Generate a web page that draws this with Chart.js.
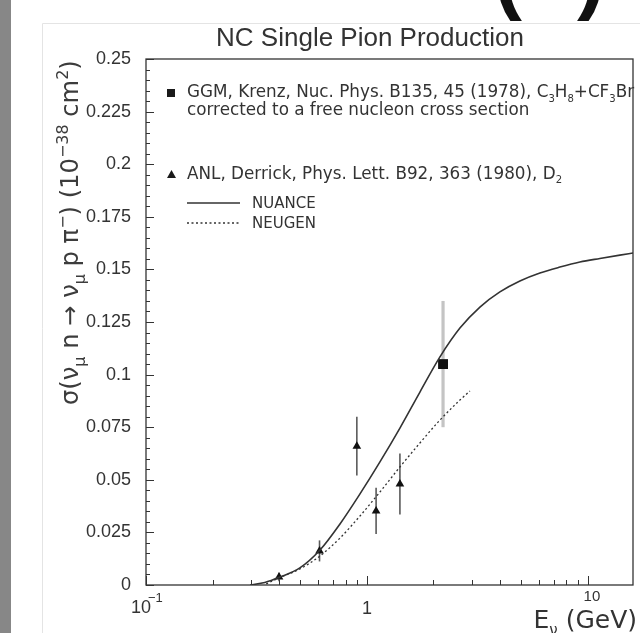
<!DOCTYPE html>
<html>
<head>
<meta charset="utf-8">
<script src="https://cdn.jsdelivr.net/npm/chart.js@4.4.1/dist/chart.umd.min.js"></script>
<style>
  html, body { margin: 0; padding: 0; background: #ffffff; }
  #wrap { width: 640px; height: 633px; }
</style>
</head>
<body>
<div id="wrap"><canvas id="c" width="640" height="633"></canvas></div>
<script>
// NUANCE prediction (solid curve)
const nuanceE     = [0.296, 0.345, 0.404, 0.497, 0.613, 0.755, 0.930, 1.145, 1.410, 1.737, 2.140, 2.635, 3.246, 3.997, 4.923, 6.066, 7.470, 9.201, 11.33, 13.96, 16.0];
const nuanceSigma = [0.0, 0.0012, 0.0038, 0.0081, 0.0166, 0.0290, 0.0433, 0.0585, 0.0746, 0.0917, 0.1084, 0.1221, 0.1321, 0.1393, 0.1445, 0.1483, 0.1511, 0.1535, 0.1552, 0.1568, 0.1578];

// NEUGEN prediction (dotted curve)
const neugenE     = [0.35, 0.404, 0.497, 0.613, 0.755, 0.930, 1.145, 1.410, 1.737, 2.140, 2.635, 2.925];
const neugenSigma = [0.0005, 0.0036, 0.0076, 0.0138, 0.0223, 0.0328, 0.0442, 0.0561, 0.0675, 0.0784, 0.0879, 0.0922];

// ANL (Derrick 1980) measurements
const anlE     = [0.40, 0.61, 0.90, 1.10, 1.41];
const anlSigma = [0.0038, 0.0162, 0.066, 0.0352, 0.048];
const anlErr   = [0.002, 0.005, 0.014, 0.011, 0.0145];

// GGM (Krenz 1978) measurement
const ggmE     = [2.21];
const ggmSigma = [0.105];
const ggmErr   = [0.03];

// Axis ticks
const yTicks      = [0, 0.025, 0.05, 0.075, 0.1, 0.125, 0.15, 0.175, 0.2, 0.225, 0.25];
const yTickLabels = ['0', '0.025', '0.05', '0.075', '0.1', '0.125', '0.15', '0.175', '0.2', '0.225', '0.25'];
const xDecades    = [0.1, 1, 10];

const INK = '#333333';
const FONT = '"Liberation Sans", Arial, Helvetica, sans-serif';
const WIDE = '"DejaVu Sans", Verdana, sans-serif';

function pts(xs, ys) { return xs.map((x, i) => ({ x: x, y: ys[i] })); }

// Text made of runs, some of which are sub- or superscripts.
function richWidth(ctx, runs, size, family, k) {
  let w = 0;
  for (const r of runs) {
    const s = r.sub || r.sup ? size * k : size;
    ctx.font = s + 'px ' + family;
    w += ctx.measureText(r.t).width;
  }
  return w;
}
function drawRich(ctx, runs, x, y, size, family, k) {
  let cx = x;
  for (const r of runs) {
    const s = r.sub || r.sup ? size * k : size;
    ctx.font = s + 'px ' + family;
    const dy = r.sub ? size * 0.28 : (r.sup ? -size * 0.42 : 0);
    ctx.fillText(r.t, cx, y + dy);
    cx += ctx.measureText(r.t).width;
  }
}

const decorPlugin = {
  id: 'decor',
  beforeDraw(chart) {
    const ctx = chart.ctx;
    ctx.save();
    ctx.fillStyle = '#ffffff';
    ctx.fillRect(0, 0, chart.width, chart.height);
    // dark strip on the left edge
    ctx.fillStyle = '#878787';
    ctx.fillRect(0, 0, 11, chart.height);
    // faint panel outline
    ctx.strokeStyle = '#e4e4e4';
    ctx.lineWidth = 1;
    ctx.beginPath();
    ctx.moveTo(42.5, chart.height);
    ctx.lineTo(42.5, 23.5);
    ctx.lineTo(chart.width, 23.5);
    ctx.stroke();
    // large bracket glyphs cut by the top edge
    ctx.fillStyle = '#111111';
    ctx.font = 'bold 84px ' + FONT;
    ctx.textBaseline = 'alphabetic';
    ctx.textAlign = 'left';
    ctx.fillText('(', 494, 4);
    ctx.fillText(')', 577, 4);
    ctx.restore();
  },
  beforeDatasetsDraw(chart) {
    const ctx = chart.ctx;
    const xs = chart.scales.x, ys = chart.scales.y;
    ctx.save();
    // ANL error bars
    ctx.strokeStyle = '#5a5a5a';
    ctx.lineWidth = 1.6;
    anlE.forEach((e, i) => {
      const px = xs.getPixelForValue(e);
      ctx.beginPath();
      ctx.moveTo(px, ys.getPixelForValue(anlSigma[i] - anlErr[i]));
      ctx.lineTo(px, ys.getPixelForValue(anlSigma[i] + anlErr[i]));
      ctx.stroke();
    });
    // GGM error bar
    ctx.strokeStyle = '#c4c4c4';
    ctx.lineWidth = 3.2;
    ggmE.forEach((e, i) => {
      const px = xs.getPixelForValue(e);
      ctx.beginPath();
      ctx.moveTo(px, ys.getPixelForValue(ggmSigma[i] - ggmErr[i]));
      ctx.lineTo(px, ys.getPixelForValue(ggmSigma[i] + ggmErr[i]));
      ctx.stroke();
    });
    ctx.restore();
  },
  afterDraw(chart) {
    const ctx = chart.ctx;
    const a = chart.chartArea;
    const xs = chart.scales.x, ys = chart.scales.y;
    ctx.save();
    ctx.strokeStyle = INK;
    ctx.fillStyle = INK;

    // frame
    ctx.lineWidth = 1.3;
    ctx.strokeRect(a.left, a.top, a.right - a.left, a.bottom - a.top);

    // y ticks (inward)
    ctx.lineWidth = 1;
    for (let k = 0; k <= 50; k++) {
      const v = k * 0.005;
      const py = Math.round(ys.getPixelForValue(v)) + 0.5;
      const len = k % 5 === 0 ? 8 : 4;
      ctx.beginPath();
      ctx.moveTo(a.left, py);
      ctx.lineTo(a.left + len, py);
      ctx.stroke();
    }
    // x ticks (inward, logarithmic)
    for (const d of xDecades) {
      for (let m = 1; m <= 9; m++) {
        const v = d * m;
        if (v < xs.min || v > xs.max) continue;
        const px = Math.round(xs.getPixelForValue(v)) + 0.5;
        const len = m === 1 ? 9 : 5;
        ctx.beginPath();
        ctx.moveTo(px, a.bottom);
        ctx.lineTo(px, a.bottom - len);
        ctx.stroke();
      }
    }

    // y tick labels
    ctx.font = '18px ' + FONT;
    ctx.textAlign = 'right';
    ctx.textBaseline = 'middle';
    yTicks.forEach((v, i) => {
      ctx.fillText(yTickLabels[i], 131, ys.getPixelForValue(v));
    });

    // x tick labels
    ctx.textAlign = 'left';
    ctx.textBaseline = 'alphabetic';
    const x01 = xs.getPixelForValue(xDecades[0]);
    ctx.font = '18px ' + FONT;
    ctx.fillText('10', x01 - 15, 613);
    ctx.font = '13px ' + FONT;
    ctx.fillText('\u22121', x01 + 2, 602);
    ctx.font = '18px ' + FONT;
    ctx.textAlign = 'center';
    ctx.fillText('1', xs.getPixelForValue(xDecades[1]), 614);
    ctx.font = '15px ' + FONT;
    ctx.fillText('10', xs.getPixelForValue(xDecades[2]) + 4, 601);

    // title
    ctx.font = '26px ' + FONT;
    ctx.textAlign = 'center';
    ctx.fillText('NC Single Pion Production', 370, 46);

    // x axis title
    ctx.textAlign = 'left';
    const xt = [{ t: 'E' }, { t: '\u03bd', sub: true }, { t: ' (GeV)' }];
    const xw = richWidth(ctx, xt, 25, WIDE, 0.6);
    drawRich(ctx, xt, 637 - xw, 628, 25, WIDE, 0.6);

    // y axis title (rotated), running from y=405 up to y=60
    const yt = [
      { t: '\u03c3(\u03bd' }, { t: '\u03bc', sub: true }, { t: ' n \u2192 \u03bd' }, { t: '\u03bc', sub: true },
      { t: ' p \u03c0' }, { t: '\u2212', sup: true }, { t: ') (10' }, { t: '\u221238', sup: true },
      { t: ' cm' }, { t: '2', sup: true }, { t: ')' }
    ];
    const base = 22;
    const ySize = base * 345 / richWidth(ctx, yt, base, WIDE, 0.66);
    ctx.save();
    ctx.fillStyle = '#3c3c3c';
    ctx.translate(78, 405);
    ctx.rotate(-Math.PI / 2);
    drawRich(ctx, yt, 0, 0, ySize, WIDE, 0.66);
    ctx.restore();

    // legend
    ctx.fillStyle = '#1a1a1a';
    ctx.fillRect(167, 89, 8, 8);
    ctx.beginPath();
    ctx.moveTo(171.5, 170);
    ctx.lineTo(176, 178);
    ctx.lineTo(167, 178);
    ctx.closePath();
    ctx.fill();
    ctx.fillStyle = INK;
    const lg = 16.8;
    drawRich(ctx, [{ t: 'GGM, Krenz, Nuc. Phys. B135, 45 (1978), C' }, { t: '3', sub: true }, { t: 'H' }, { t: '8', sub: true },
                   { t: '+CF' }, { t: '3', sub: true }, { t: 'Br' }], 187, 97, lg, WIDE, 0.6);
    drawRich(ctx, [{ t: 'corrected to a free nucleon cross section' }], 187, 114.5, lg, WIDE, 0.6);
    drawRich(ctx, [{ t: 'ANL, Derrick, Phys. Lett. B92, 363 (1980), D' }, { t: '2', sub: true }], 187, 178.5, lg, WIDE, 0.6);
    ctx.font = '15px ' + WIDE;
    ctx.fillText('NUANCE', 252, 208);
    ctx.fillText('NEUGEN', 252, 228);
    ctx.lineWidth = 1.6;
    ctx.beginPath();
    ctx.moveTo(187, 203);
    ctx.lineTo(240, 203);
    ctx.stroke();
    ctx.setLineDash([2, 2.5]);
    ctx.lineWidth = 1.3;
    ctx.beginPath();
    ctx.moveTo(187, 223);
    ctx.lineTo(240, 223);
    ctx.stroke();
    ctx.restore();
  }
};

new Chart(document.getElementById('c'), {
  type: 'scatter',
  data: {
    datasets: [
      {
        label: 'NUANCE',
        data: pts(nuanceE, nuanceSigma),
        showLine: true,
        borderColor: INK,
        borderWidth: 1.6,
        pointRadius: 0,
        cubicInterpolationMode: 'monotone'
      },
      {
        label: 'NEUGEN',
        data: pts(neugenE, neugenSigma),
        showLine: true,
        borderColor: INK,
        borderWidth: 1.3,
        borderDash: [2, 2.5],
        pointRadius: 0,
        cubicInterpolationMode: 'monotone'
      },
      {
        label: 'ANL',
        data: pts(anlE, anlSigma),
        pointStyle: 'triangle',
        pointRadius: 5,
        backgroundColor: '#111111',
        borderColor: '#111111',
        borderWidth: 0
      },
      {
        label: 'GGM',
        data: pts(ggmE, ggmSigma),
        pointStyle: 'rect',
        pointRadius: 7,
        backgroundColor: '#111111',
        borderColor: '#111111',
        borderWidth: 0
      }
    ]
  },
  options: {
    responsive: false,
    animation: false,
    layout: { padding: { left: 146, top: 59, right: 7, bottom: 48 } },
    plugins: { legend: { display: false }, tooltip: { enabled: false }, title: { display: false } },
    scales: {
      x: { type: 'logarithmic', min: 0.1, max: 16, display: false },
      y: { type: 'linear', min: 0, max: 0.25, display: false }
    }
  },
  plugins: [decorPlugin]
});
</script>
</body>
</html>
